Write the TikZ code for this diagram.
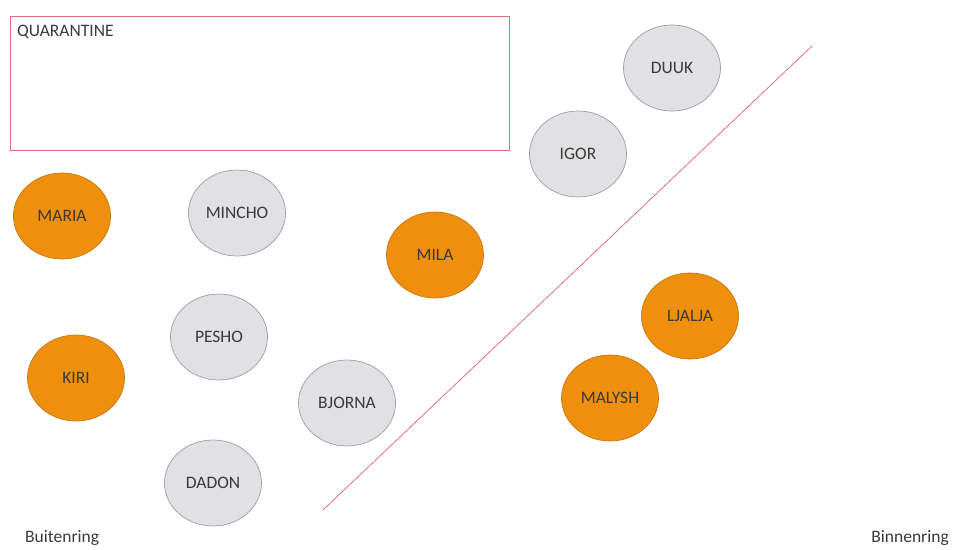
\documentclass[tikz,border=0pt]{standalone}
\usepackage{fontspec}
\setmainfont{Carlito}
\usepackage{xcolor}
\usepackage{tikz}
\usetikzlibrary{shapes.geometric}
\definecolor{Oranje}{HTML}{EE8F0E}
\definecolor{OranjeRand}{HTML}{C8780E}
\definecolor{Grijs}{HTML}{E1E1E3}
\definecolor{GrijsRand}{HTML}{9E9EA2}
\definecolor{RoodLijn}{HTML}{E0707E}
\definecolor{TekstGrijs}{HTML}{3A3A3A}

\tikzset{
  dier/.style={ellipse, minimum width=97pt, minimum height=86pt, inner sep=0pt,
               line width=0.7pt, text=TekstGrijs, font=\fontsize{17.5}{20}\selectfont},
  buiten/.style={dier, fill=Oranje, draw=OranjeRand},
  binnen/.style={dier, fill=Grijs, draw=GrijsRand},
  ring/.style={text=TekstGrijs, font=\fontsize{17.5}{20}\selectfont, inner sep=0pt}
}

\begin{document}
\begin{tikzpicture}[x=1pt, y=-1pt]
      \useasboundingbox (0,0) rectangle (956,549);
      % quarantaine
      \draw[RoodLijn, line width=0.9pt] (10,16) rectangle (509,150);
      \node[ring, anchor=base west] (quarantaine) at (17,36.5) {QUARANTINE};
      % scheidslijn
      \coordinate (lijnA) at (323,510);
      \coordinate (lijnB) at (812,46);
      \draw[RoodLijn, line width=0.8pt] (lijnA) -- (lijnB);
      % dieren
      \node[binnen] (duuk)   at (672,68)  {DUUK};
      \node[binnen] (igor)   at (578,154) {IGOR};
      \node[buiten] (mila)   at (435,255) {MILA};
      \node[buiten] (ljalja) at (690,316) {LJALJA};
      \node[buiten] (malysh) at (610,398) {MALYSH};
      \node[binnen] (bjorna) at (347,403) {BJORNA};
      \node[buiten] (maria)  at (62,216)  {MARIA};
      \node[binnen] (mincho) at (237,213) {MINCHO};
      \node[binnen] (pesho)  at (219,337) {PESHO};
      \node[buiten] (kiri)   at (76,378)  {KIRI};
      \node[binnen] (dadon)  at (213,483) {DADON};
      % ringen
      \node[ring, anchor=base west] (buitenring) at (25,542) {Buitenring};
      \node[ring, anchor=base east] (binnenring) at (949,542) {Binnenring};
    \end{tikzpicture}
\end{document}
